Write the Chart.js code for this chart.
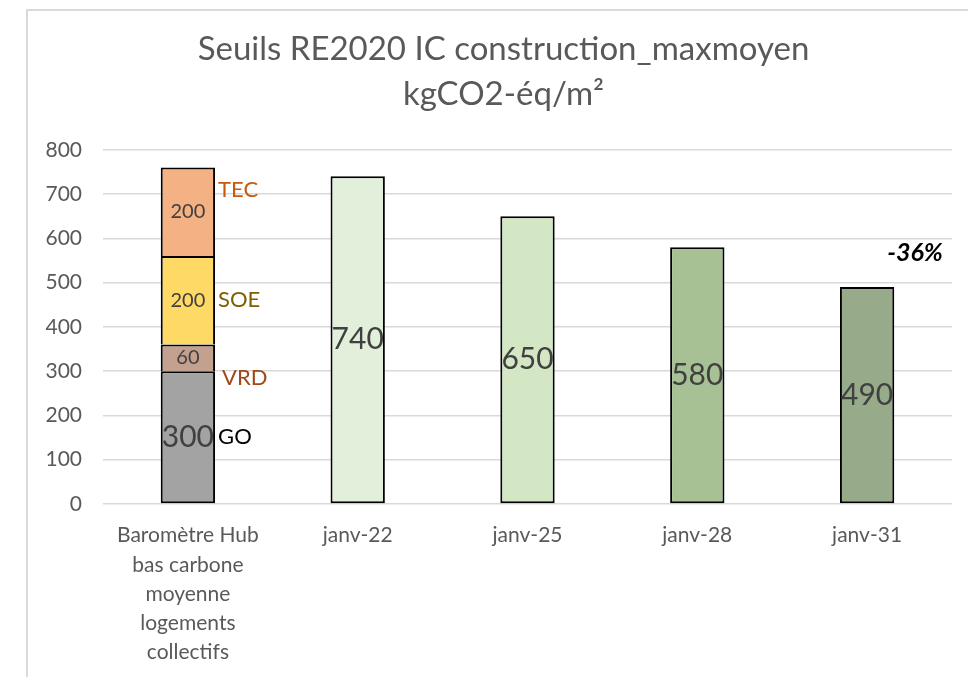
<!DOCTYPE html>
<html lang="fr">
<head>
<meta charset="utf-8">
<script src="https://cdn.jsdelivr.net/npm/chart.js@4"></script>
<style>
  html, body { margin: 0; padding: 0; background: #ffffff; overflow: hidden; }
  body { width: 968px; height: 677px; position: relative; }
  #frame {
    position: absolute; left: 26px; top: 9px; width: 960px; height: 680px;
    border-left: 2px solid #d9d9d9; border-top: 2px solid #d9d9d9;
    box-sizing: border-box;
  }
  #wrap { position: absolute; left: 27px; top: 10px; width: 953px; height: 667px; }
</style>
</head>
<body>
<div id="frame"></div>
<div id="wrap"><canvas id="chart" width="953" height="667"></canvas></div>
<script>
// Categories on the x axis
const categories = [
  ['Baromètre Hub', 'bas carbone', 'moyenne', 'logements', 'collectifs'],
  'janv-22', 'janv-25', 'janv-28', 'janv-31'
];

// Breakdown of the average building (first column), kgCO2-éq/m²
const componentNames = ['GO', 'VRD', 'SOE', 'TEC'];
const goValues  = [300, null, null, null, null];
const vrdValues = [60,  null, null, null, null];
const soeValues = [200, null, null, null, null];
const tecValues = [200, null, null, null, null];

// RE2020 thresholds by date
const thresholdValues = [null, 740, 650, 580, 490];

// Y axis ticks
const yTicks = [0, 100, 200, 300, 400, 500, 600, 700, 800];

const FONT = 'Lato, "Open Sans", sans-serif';

const componentFill  = ['#a3a3a3', '#c4a08e', '#ffd966', '#f4b183'];
const componentText  = ['#000000', '#a0481a', '#7f6000', '#c55a11'];
const thresholdFill  = [null, '#e2efda', '#d4e7c4', '#a8c194', '#97ab8a'];

function seg(label, data, i) {
  return {
    label, data,
    backgroundColor: componentFill[i],
    borderColor: '#000000', borderWidth: 2,
    // upper segments share the top edge of the segment below
    borderSkipped: i === 0 ? false : 'bottom',
    stack: 's'
  };
}

const datasets = [
  seg(componentNames[0], goValues, 0),
  seg(componentNames[1], vrdValues, 1),
  seg(componentNames[2], soeValues, 2),
  seg(componentNames[3], tecValues, 3),
  {
    label: 'Seuil', data: thresholdValues,
    backgroundColor: thresholdFill,
    borderColor: '#000000', borderWidth: 2, borderSkipped: false,
    stack: 's'
  }
];

// Text drawn on and beside the bars
const barLabels = {
  id: 'barLabels',
  afterDatasetsDraw(chart) {
    const ctx = chart.ctx;
    ctx.save();
    ctx.textBaseline = 'middle';

    // values inside the stacked segments
    const segFont = [30, 20, 20, 20];
    for (let d = 0; d < 4; d++) {
      const el = chart.getDatasetMeta(d).data[0];
      const v = chart.data.datasets[d].data[0];
      ctx.font = segFont[d] + 'px ' + FONT;
      ctx.fillStyle = '#404040';
      ctx.textAlign = 'center';
      ctx.fillText(String(v), el.x, (el.y + el.base) / 2);
    }

    // component names to the right of the first column
    const sideOffsets = [
      el => (el.y + el.base) / 2,   // GO
      el => el.base + 7,            // VRD
      el => (el.y + el.base) / 2,   // SOE
      el => el.y + 22               // TEC
    ];
    const sideDx = [3, 7, 3, 3];
    for (let d = 0; d < 4; d++) {
      const el = chart.getDatasetMeta(d).data[0];
      ctx.font = '22px ' + FONT;
      ctx.fillStyle = componentText[d];
      ctx.textAlign = 'left';
      ctx.fillText(componentNames[d], el.x + el.width / 2 + sideDx[d], sideOffsets[d](el));
    }

    // threshold values
    const meta = chart.getDatasetMeta(4);
    ctx.font = '30px ' + FONT;
    ctx.fillStyle = '#404040';
    ctx.textAlign = 'center';
    thresholdValues.forEach((v, i) => {
      if (v == null) return;
      const el = meta.data[i];
      ctx.fillText(String(v), el.x, (el.y + el.base) / 2);
    });

    // reduction between the average building and the last threshold
    const total = goValues[0] + vrdValues[0] + soeValues[0] + tecValues[0];
    const last = thresholdValues[thresholdValues.length - 1];
    const pct = Math.round((last - total) / total * 100);
    const lastEl = meta.data[thresholdValues.length - 1];
    ctx.font = 'italic bold 25px ' + FONT;
    ctx.fillStyle = '#000000';
    ctx.textAlign = 'center';
    ctx.fillText(pct + '%', lastEl.x + 48, lastEl.y - 34);
    ctx.restore();
  }
};

new Chart(document.getElementById('chart'), {
  type: 'bar',
  data: { labels: categories, datasets },
  plugins: [barLabels],
  options: {
    responsive: false,
    animation: false,
    layout: { padding: 0 },
    datasets: { bar: { categoryPercentage: 1, barPercentage: 0.32 } },
    plugins: {
      legend: { display: false },
      tooltip: { enabled: false },
      title: {
        display: true,
        text: ['Seuils RE2020 IC construction_maxmoyen', 'kgCO2-éq/m²'],
        color: '#595959',
        font: { family: FONT, size: 33, weight: 'normal', lineHeight: 1.36 },
        padding: { top: 17, bottom: 33 }
      }
    },
    scales: {
      x: {
        stacked: true,
        grid: { display: false, drawTicks: false },
        border: { display: false },
        ticks: {
          color: '#595959', font: { family: FONT, size: 21, lineHeight: 1.39 },
          padding: 17, maxRotation: 0, autoSkip: false
        },
        afterFit(scale) { scale.height = 173; }
      },
      y: {
        stacked: true,
        min: 0, max: 800,
        afterBuildTicks(scale) { scale.ticks = yTicks.map(v => ({ value: v })); },
        grid: { color: '#d9d9d9', lineWidth: 1.5, drawTicks: false },
        border: { display: false },
        ticks: { color: '#595959', font: { family: FONT, size: 21 }, padding: 21 },
        afterFit(scale) { scale.width = 76; }
      },
      // empty margin on the right of the plot
      yRight: {
        position: 'right',
        min: 0, max: 800,
        grid: { display: false, drawTicks: false },
        border: { display: false },
        ticks: { display: false },
        afterFit(scale) { scale.width = 28; }
      }
    }
  }
});
</script>
</body>
</html>
